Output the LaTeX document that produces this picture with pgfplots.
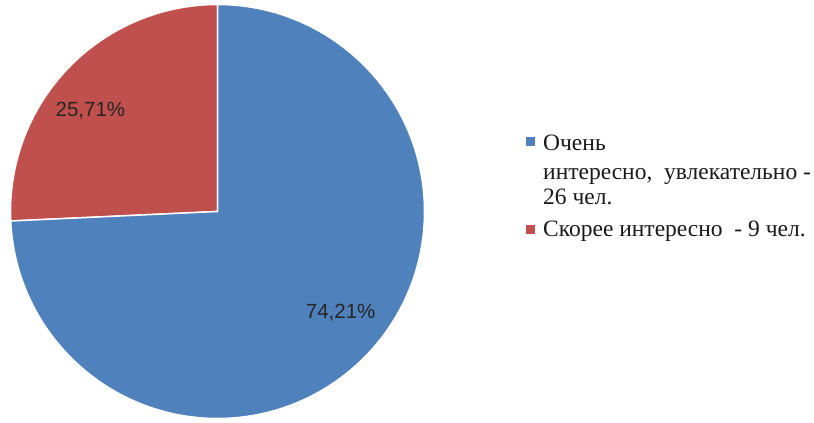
\documentclass[border=0pt]{standalone}
\usepackage{pgfplots}
\pgfplotsset{compat=1.18}
\usepackage{pgfplotstable}
\usepackage{fontspec}
\setmainfont{Liberation Serif}
\newfontfamily\legfont{Liberation Serif}
\newfontfamily\labfont{Liberation Sans}
\definecolor{pieblue}{HTML}{4F81BD}
\definecolor{piered}{HTML}{C0504D}
\pgfplotstableread{
share
74.21
25.71
}\piedata
\begin{document}
\begin{tikzpicture}[x=1pt,y=1pt]
\path[use as bounding box] (0,0) rectangle (814,423);
\pgfplotstablegetelem{0}{share}\of\piedata \let\va\pgfplotsretval
\pgfplotstablegetelem{1}{share}\of\piedata \let\vb\pgfplotsretval
\pgfmathsetmacro\angb{360*\vb/(\va+\vb)}
\pgfmathsetmacro\enda{90+\angb}
\pgfmathsetmacro\endb{90+\angb-360}
\begin{axis}[at={(217.5pt,211.5pt)}, anchor=center, width=414pt, height=414pt,
  scale only axis, xmin=-1, xmax=1, ymin=-1, ymax=1, hide axis, clip=false]
\fill[piered, draw=white, line width=1.5pt, line join=round]
  (axis cs:0,0) -- ++(90:207pt) arc[start angle=90, end angle=\enda, radius=207pt] -- cycle;
\fill[pieblue, draw=white, line width=1.5pt, line join=round]
  (axis cs:0,0) -- ++(90:207pt) arc[start angle=90, end angle=\endb, radius=207pt] -- cycle;
\node[font=\labfont\fontsize{20.5}{24}\selectfont, text=black!85] at (axis cs:-0.614,0.489) {25,71\%};
\node[font=\labfont\fontsize{20.5}{24}\selectfont, text=black!85] at (axis cs:0.595,-0.489) {74,21\%};
\end{axis}
\tikzset{leg/.style={anchor=base west, inner sep=0pt, text=black!90, font=\legfont\fontsize{23.5}{28}\selectfont}}
\fill[pieblue] (526,277) rectangle (535,286);
\node[leg] at (543,272) {Очень};
\node[leg] at (543,243) {интересно,\ \ увлекательно -};
\node[leg] at (543,218) {26 чел.};
\fill[piered] (526,189) rectangle (535,198);
\node[leg] at (543,186) {Скорее интересно\ \ - 9 чел.};
\end{tikzpicture}
\end{document}
